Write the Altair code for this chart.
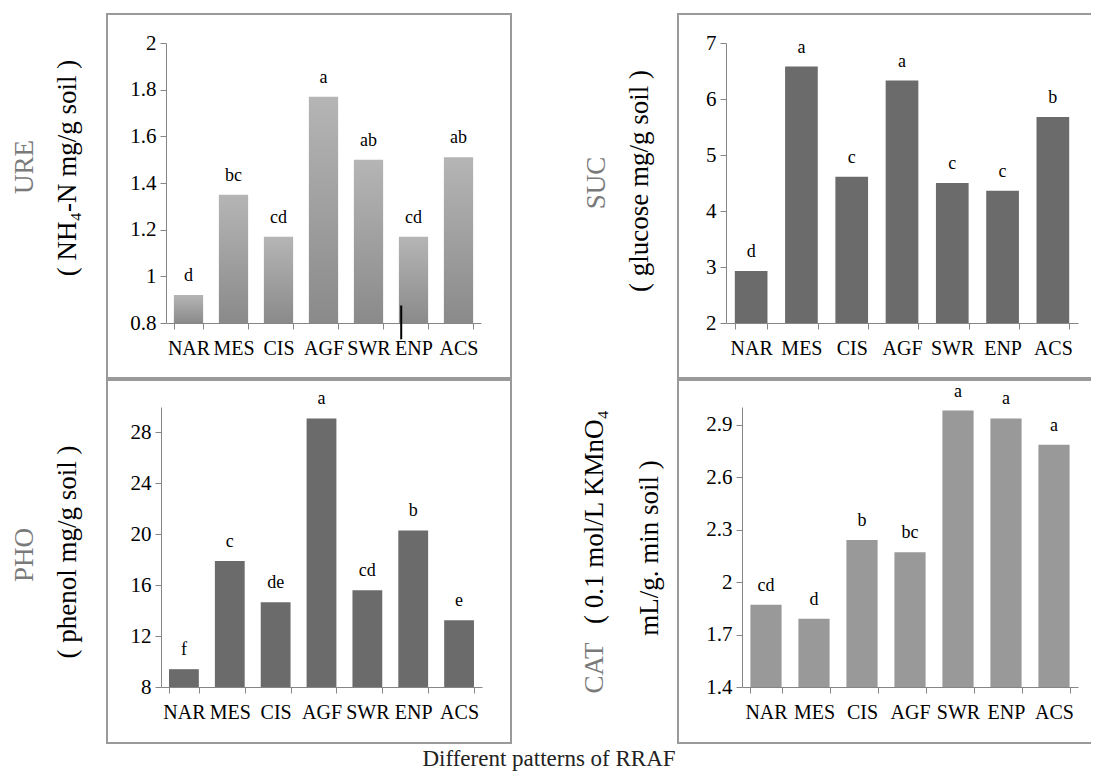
import altair as alt
import pandas as pd

# ---------------- data ----------------
categories = ["NAR", "MES", "CIS", "AGF", "SWR", "ENP", "ACS"]

ure_values = [0.92, 1.35, 1.17, 1.77, 1.50, 1.17, 1.51]
ure_letters = ["d", "bc", "cd", "a", "ab", "cd", "ab"]
suc_values = [2.93, 6.58, 4.61, 6.33, 4.50, 4.36, 5.68]
suc_letters = ["d", "a", "c", "a", "c", "c", "b"]
pho_values = [9.4, 17.9, 14.65, 29.1, 15.6, 20.3, 13.25]
pho_letters = ["f", "c", "de", "a", "cd", "b", "e"]
cat_values = [1.87, 1.79, 2.24, 2.17, 2.98, 2.935, 2.785]
cat_letters = ["cd", "d", "b", "bc", "a", "a", "a"]

ure_ticks = [0.8, 1.0, 1.2, 1.4, 1.6, 1.8, 2.0]
suc_ticks = [2, 3, 4, 5, 6, 7]
pho_ticks = [8, 12, 16, 20, 24, 28]
cat_ticks = [1.4, 1.7, 2.0, 2.3, 2.6, 2.9]

# short stray line under the ENP bar of the URE panel
stray_category = ["ENP"]
stray_from = [0.875]
stray_to = [0.73]

ure_title = ["URE", "(  NH\u2084-N mg/g soil  )"]
suc_title = ["SUC", "(  glucose mg/g soil  )"]
pho_title = ["PHO", "(  phenol mg/g soil  )"]
cat_title = ["CAT", "(  0.1 mol/L KMnO\u2084", "mL/g. min soil  )"]
x_title = ["Different patterns of RRAF"]

# ---------------- style ----------------
W, H = 1083, 764
OFF = 8  # page margin: reference coordinates -> chart coordinates
SERIF = "Liberation Serif"
AXIS_GRAY = "#868686"
FRAME_GRAY = "#9a9a9a"
TITLE_GRAY = "#7a7a7a"


def c(v):
    return v - OFF


def panel(values, letters, domain, ticks, fmt, xr, yr, fill, extra=None):
    df = pd.DataFrame({"pattern": categories, "value": values, "letter": letters})
    xenc = alt.X(
        "pattern:N",
        sort=categories,
        scale=alt.Scale(range=[c(xr[0]), c(xr[1])], paddingInner=0.35, paddingOuter=0.175),
        axis=alt.Axis(
            title=None, orient="bottom", offset=c(yr[0]) - H, tickBand="extent",
            labelAngle=0, labelPadding=9, labelFontSize=20,
        ),
    )
    yenc = alt.Y(
        "value:Q",
        scale=alt.Scale(domain=domain, range=[c(yr[0]), c(yr[1])], nice=False, zero=False),
        axis=alt.Axis(
            title=None, orient="left", offset=-c(xr[0]), values=ticks, format=fmt,
            grid=False, labelFontSize=21, labelPadding=4,
        ),
    )
    bars = alt.Chart(df).mark_bar(color=fill).encode(x=xenc, y=yenc, y2=alt.datum(domain[0]))
    text = alt.Chart(df).mark_text(
        font=SERIF, fontSize=18, dy=-14, baseline="alphabetic", color="black"
    ).encode(x=alt.X("pattern:N", sort=categories), y="value:Q", text="letter:N")
    layers = [bars, text]
    if extra is not None:
        layers.append(extra)
    return alt.layer(*layers)


def frame(x0, x1, y0, y1):
    return alt.Chart(pd.DataFrame({"k": [0]})).mark_rect(
        fill="transparent", stroke=FRAME_GRAY, strokeWidth=2
    ).encode(x=alt.value(c(x0)), x2=alt.value(c(x1)), y=alt.value(c(y0)), y2=alt.value(c(y1)))


def vtext(s, x, y, color, size=27):
    return alt.Chart(pd.DataFrame({"t": [s]})).mark_text(
        font=SERIF, fontSize=size, angle=270, align="center", baseline="middle", color=color
    ).encode(x=alt.value(c(x)), y=alt.value(c(y)), text="t:N")


ure_gradient = alt.Gradient(
    gradient="linear",
    stops=[alt.GradientStop(color="#b5b5b5", offset=0), alt.GradientStop(color="#8a8a8a", offset=1)],
    x1=0, x2=0, y1=0, y2=1,
)

stray_df = pd.DataFrame({"pattern": stray_category, "top": stray_from, "bottom": stray_to})
stray = alt.Chart(stray_df).mark_rule(color="black", strokeWidth=2).encode(
    x=alt.X("pattern:N", sort=categories, bandPosition=0.08),
    y=alt.Y("top:Q"),
    y2="bottom:Q",
)

p1 = panel(ure_values, ure_letters, [0.8, 2.0], ure_ticks, ".1~f", (166, 481), (323, 43), ure_gradient, stray)
p2 = panel(suc_values, suc_letters, [2, 7], suc_ticks, "d", (726, 1078), (323, 43), "#6b6b6b")
p3 = panel(pho_values, pho_letters, [8, 30], pho_ticks, "d", (161, 482), (687, 407), "#6b6b6b")
p4 = panel(cat_values, cat_letters, [1.4, 3.0], cat_ticks, ".1~f", (742, 1078), (687, 407), "#999999")

frames = [
    frame(107, 511, 14, 378),
    frame(678, 1120, 14, 378),
    frame(107, 511, 380, 743),
    frame(678, 1120, 380, 743),
]

titles = [
    vtext(ure_title[0], 25, 167, TITLE_GRAY),
    vtext(ure_title[1], 68, 168, "black"),
    vtext(suc_title[0], 597, 183, TITLE_GRAY),
    vtext(suc_title[1], 640, 181, "black"),
    vtext(pho_title[0], 25, 555, TITLE_GRAY),
    vtext(pho_title[1], 68, 552, "black"),
    vtext(cat_title[0], 595, 668, TITLE_GRAY),
    vtext(cat_title[1], 595, 517, "black"),
    vtext(cat_title[2], 650, 548, "black"),
    alt.Chart(pd.DataFrame({"t": x_title})).mark_text(
        font=SERIF, fontSize=23, align="center", baseline="alphabetic", color="#222222"
    ).encode(x=alt.value(c(549)), y=alt.value(c(766)), text="t:N"),
]

chart = (
    alt.layer(*frames, p1, p2, p3, p4, *titles)
    .resolve_scale(x="independent", y="independent")
    .properties(width=W, height=H, padding=0, autosize=alt.AutoSizeParams(type="none"))
    .configure_view(stroke=None)
    .configure_axis(
        domainColor=AXIS_GRAY, tickColor=AXIS_GRAY, tickSize=6, domainWidth=1,
        labelColor="black", labelFont=SERIF,
    )
)

chart.save("out.html", embed_options={"renderer": "svg", "actions": False})
